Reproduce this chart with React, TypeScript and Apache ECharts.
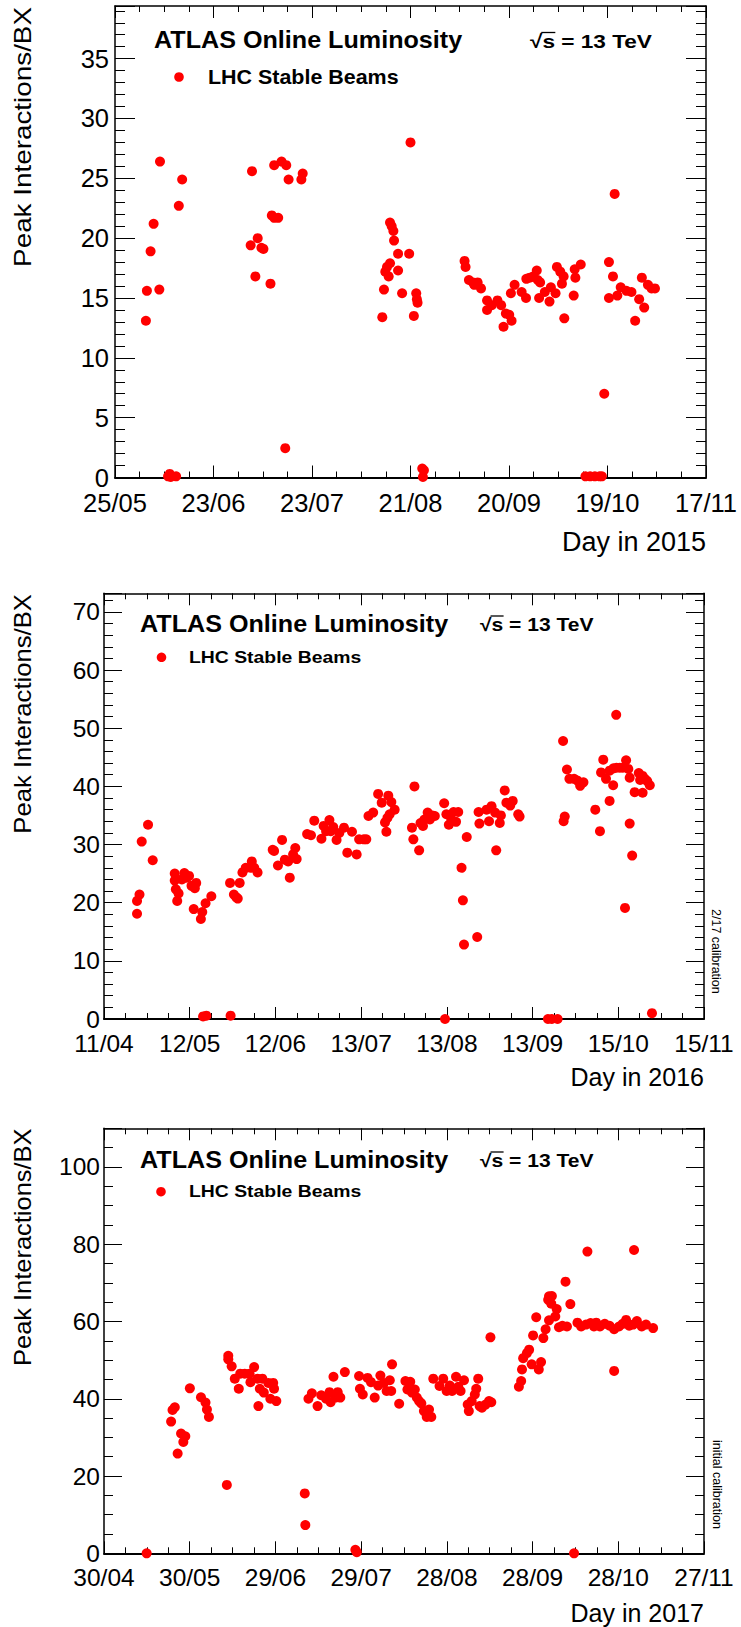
import React, { useEffect, useRef } from "react";
import * as echarts from "echarts";

// ---------------- data ----------------
// x values: days since the first tick label of each panel; y: peak interactions per bunch crossing
const TICKS_2015 = ["25/05", "23/06", "23/07", "21/08", "20/09", "19/10", "17/11"];
const SPAN_2015 = 176;
const YMAX_2015 = 39.4;
const DATA_2015: number[][] = [
  [9.2, 13.1], [9.5, 15.6], [10.6, 18.9], [11.5, 21.2], [13.2, 15.7], [13.4, 26.4], [15.8, 0.1], [16.3, 0.3], [16.6, 0.05], [18.2, 0.1], [19.0, 22.7], [20.0, 24.9],
  [40.4, 19.4], [40.8, 25.6], [41.8, 16.8], [42.5, 20.0], [43.6, 19.2], [44.2, 19.1], [46.3, 16.2], [46.7, 21.9], [47.4, 21.7], [48.6, 21.7], [47.4, 26.1], [49.6, 26.4], [51.0, 26.1], [51.7, 24.9], [50.7, 2.45], [55.5, 24.9], [55.9, 25.4],
  [79.6, 13.4], [80.1, 15.7], [80.5, 17.2], [81.0, 17.6], [81.5, 16.8], [81.9, 17.9], [81.9, 21.3], [82.4, 21.0], [82.9, 20.6], [83.1, 19.8], [84.3, 17.3], [84.3, 18.7], [85.5, 15.4], [87.6, 18.7], [88.0, 28.0], [89.0, 13.5], [89.7, 15.4], [89.9, 14.9], [90.1, 14.6], [91.5, 0.75], [91.7, 0.05], [92.0, 0.6],
  [104.1, 18.1], [104.4, 17.6], [105.4, 16.5], [106.6, 16.3], [107.0, 16.1], [108.0, 16.3], [109.0, 15.8], [110.8, 14.8], [110.8, 14.0], [112.2, 14.4], [113.9, 14.8], [115.0, 14.4], [115.7, 12.6], [116.4, 13.7], [117.4, 13.6], [118.1, 13.1], [117.9, 15.4], [119.0, 16.1],
  [121.1, 15.5], [122.4, 15.0], [122.5, 16.6], [123.5, 16.7], [124.6, 16.8], [125.6, 17.3], [125.9, 16.5], [126.6, 16.3], [126.3, 15.0], [128.0, 15.5], [129.4, 14.7], [129.8, 15.9], [131.2, 15.4], [131.6, 17.6], [132.6, 17.2], [133.1, 16.2], [133.6, 16.8], [133.8, 13.3],
  [136.6, 15.2], [136.9, 17.4], [137.1, 16.7], [138.7, 17.8], [140.1, 0.1], [141.5, 0.1], [142.9, 0.1], [144.3, 0.1], [145.0, 0.1], [145.7, 7.0], [147.1, 18.0], [147.1, 15.0], [148.3, 16.8], [148.8, 23.7], [149.6, 15.2], [150.6, 15.9],
  [152.3, 15.6], [153.8, 15.5], [154.9, 13.1], [156.1, 14.9], [156.9, 16.7], [157.6, 14.2], [158.7, 16.1], [159.8, 15.8], [160.8, 15.8],
];

const TICKS_2016 = ["11/04", "12/05", "12/06", "13/07", "13/08", "13/09", "15/10", "15/11"];
const SPAN_2016 = 218;
const YMAX_2016 = 73.2;
const DATA_2016: number[][] = [
  [12.0, 18.1], [12.0, 20.3], [12.9, 21.4], [13.7, 30.5], [16.0, 33.4], [17.7, 27.3],
  [25.7, 25.0], [25.7, 23.8], [26.1, 22.3], [26.6, 20.3], [27.1, 21.6], [28.3, 24.0], [29.2, 25.1], [30.0, 24.3], [30.9, 24.6], [31.8, 22.9], [33.0, 22.5], [32.6, 18.9], [33.5, 23.4], [35.2, 17.2], [35.7, 18.4], [36.9, 19.9], [39.0, 21.1], [36.0, 0.45], [37.2, 0.57], [46.0, 0.57],
  [45.8, 23.4], [47.2, 21.4], [48.1, 20.9], [48.6, 20.7], [49.3, 23.4], [50.3, 25.2], [51.5, 26.0], [53.2, 26.0], [53.7, 27.1], [54.6, 26.0], [55.8, 25.2],
  [61.3, 29.1], [61.8, 28.9], [63.2, 26.4], [64.7, 30.8], [65.7, 27.4], [67.5, 24.3], [66.9, 27.1], [68.7, 28.3], [69.5, 29.4], [70.0, 27.5],
  [73.8, 31.8], [75.2, 31.6], [76.4, 34.1], [79.0, 31.0], [79.8, 33.2], [80.7, 32.3], [81.9, 34.2], [82.4, 32.3], [83.3, 33.0], [84.5, 30.8], [85.5, 32.0], [87.2, 32.9], [88.4, 28.6], [90.1, 32.2], [91.8, 28.3], [92.7, 30.9], [94.4, 30.9], [95.3, 30.9],
  [96.1, 34.9], [97.8, 35.5], [99.6, 38.7], [100.9, 37.2], [102.1, 33.8], [102.6, 32.2], [103.0, 34.6], [103.3, 38.4], [103.8, 35.2], [104.4, 37.3], [105.6, 36.0],
  [111.9, 32.9], [112.4, 30.9], [112.8, 40.0], [114.5, 29.0], [115.0, 33.7], [115.9, 33.2], [116.4, 34.3], [117.6, 35.5], [118.4, 34.3], [119.3, 35.0], [120.2, 34.9],
  [123.6, 37.1], [123.9, 0], [124.4, 35.2], [125.3, 33.4], [126.2, 34.3], [127.0, 35.6], [127.9, 33.9], [128.7, 35.6], [129.9, 26.0], [130.4, 20.4], [130.8, 12.8], [131.8, 31.3], [135.6, 14.1], [136.1, 35.6], [136.4, 33.6],
  [139.0, 36.0], [139.9, 34.0], [140.8, 36.6], [142.1, 35.5], [142.5, 29.0], [143.8, 33.7], [144.2, 35.0], [145.6, 39.3], [146.2, 37.2], [147.6, 36.7], [148.5, 37.5], [150.5, 35.2], [151.0, 34.8],
  [161.3, 0], [162.7, 0], [164.8, 0],
  [166.8, 47.8], [167.0, 34.0], [167.4, 34.8], [168.2, 42.9], [169.1, 41.3], [170.8, 41.3], [172.0, 41.0], [173.0, 40.1], [174.2, 40.7],
  [178.5, 36.0], [180.2, 32.3], [180.6, 42.4], [181.4, 44.6], [182.4, 41.3], [183.7, 42.7], [183.7, 37.5], [185.0, 40.2], [185.1, 43.1], [186.1, 52.3], [186.2, 43.2], [187.4, 43.2], [188.5, 43.2], [189.3, 19.1],
  [189.7, 44.5], [190.5, 43.0], [191.0, 41.5], [191.0, 33.6], [191.9, 28.1], [192.8, 39.0], [194.3, 42.3], [194.8, 41.1], [195.7, 41.8], [195.7, 38.9], [196.5, 41.3], [197.4, 40.9], [198.3, 40.2], [199.1, 1.0],
];

const TICKS_2017 = ["30/04", "30/05", "29/06", "29/07", "28/08", "28/09", "28/10", "27/11"];
const SPAN_2017 = 211;
const YMAX_2017 = 110;
const DATA_2017: number[][] = [
  [15.0, 0], [23.6, 34.1], [24.1, 37.1], [24.9, 37.8], [25.9, 25.8], [27.1, 31.0], [27.9, 28.8], [28.6, 30.3], [30.2, 42.7], [34.1, 40.4], [35.7, 39.0], [36.2, 37.2], [36.9, 35.3],
  [43.2, 17.7], [43.7, 51.1], [43.7, 50.2], [44.9, 48.4], [46.0, 45.2], [47.4, 42.6], [47.9, 46.5], [49.5, 46.5], [51.2, 46.5], [51.5, 44.3], [52.8, 48.2], [54.0, 45.2], [54.3, 38.1], [54.8, 42.6], [55.7, 45.2], [56.2, 41.6], [57.8, 44.1], [58.5, 40.0], [59.5, 44.1], [59.8, 42.6], [60.6, 39.4],
  [70.6, 15.5], [70.8, 7.3], [71.9, 40.0], [73.1, 41.4], [75.1, 38.1], [76.4, 40.9], [78.1, 40.0], [79.3, 41.7], [79.7, 39.1], [80.7, 45.7], [81.4, 40.3], [82.2, 41.7], [83.1, 40.3], [84.7, 46.9],
  [88.4, 0.9], [88.9, 0.3], [89.7, 45.9], [90.0, 42.6], [91.0, 41.1], [92.7, 45.4], [93.9, 44.3], [95.2, 40.3], [96.4, 43.4], [97.2, 46.0], [98.4, 44.1], [99.4, 42.0], [100.5, 44.8], [101.0, 42.0], [101.3, 48.9], [103.8, 38.7],
  [106.0, 44.6], [106.7, 42.4], [107.7, 44.4], [108.3, 41.6], [109.3, 42.4], [110.0, 40.3], [110.8, 39.4], [111.6, 38.8], [112.5, 36.8], [113.5, 35.3], [114.3, 37.2], [115.1, 35.3], [115.8, 45.2],
  [118.0, 43.3], [119.3, 45.2], [120.5, 42.0], [121.6, 43.4], [122.4, 42.0], [123.8, 45.7], [124.6, 43.1], [125.4, 42.0], [126.6, 44.8], [127.9, 38.5], [128.3, 36.8], [129.3, 39.4], [130.4, 41.1], [130.9, 42.6], [131.6, 45.2], [132.1, 38.1], [132.9, 37.7], [134.2, 38.5], [135.4, 39.4], [135.9, 55.9], [136.2, 39.1],
  [145.9, 43.1], [146.7, 44.6], [147.0, 47.6], [147.4, 50.5], [148.7, 51.8], [149.5, 52.7], [150.4, 48.9], [150.9, 56.4], [152.0, 61.1], [152.9, 47.6], [153.7, 49.5], [154.5, 55.7], [155.3, 58.0], [156.2, 65.6], [156.5, 66.5], [156.5, 60.3], [157.3, 64.6], [157.5, 66.6], [158.7, 61.3], [159.2, 63.2], [160.0, 58.5], [161.2, 58.9], [162.3, 70.3], [162.8, 58.7], [164.0, 64.5], [165.3, 0],
  [166.5, 59.7], [167.8, 58.7], [169.5, 59.2], [170.0, 78.1], [171.1, 59.6], [172.3, 58.7], [173.1, 59.7], [174.4, 58.7], [176.1, 59.4], [177.8, 58.9], [179.4, 58.0], [179.4, 47.2], [181.1, 58.7], [182.4, 59.4], [183.6, 60.4], [184.7, 58.9], [186.1, 59.2], [186.4, 78.5], [187.4, 60.1], [189.1, 58.7], [190.6, 59.2], [193.1, 58.3],
];

const YEARS = ["2015", "2016", "2017"];
const Y_INTERVALS = [5, 10, 20];
const Y_MINOR_SPLITS = [5, 5, 4];
const NOTES = ["", "2/17 calibration", "initial calibration"];
const TITLE = "ATLAS Online Luminosity";
const ENERGY = "√s = 13 TeV";
const LEGEND = "LHC Stable Beams";
const Y_TITLE = "Peak Interactions/BX";

// ---------------- layout ----------------
const FONT = '"Liberation Sans", Arial, Helvetica, sans-serif';
const RED = "#ff0000";

const LAYOUT = [
  { left: 115, top: 6, width: 591, height: 471.5, tickFont: 25.5, tickLH: 20, xMargin: 15, yMargin: 6, yTick: 20, xTick: 12,
    title: [154, 40, 23.5, 1.07], energy: [530, 41.5, 19, 1.19], marker: [179, 77], legend: [208, 77, 19.5, 1.1],
    ytitle: [23, 7, 24, 1.16], xtitle: [706, 542, 27], note: [0, 0] },
  { left: 104, top: 593.3, width: 600, height: 425.7, tickFont: 24.5, tickLH: 19, xMargin: 15, yMargin: 4, yTick: 18, xTick: 12,
    title: [140, 623.5, 23.5, 1.07], energy: [480, 625, 18, 1.17], marker: [161.5, 657.3], legend: [189, 657.5, 17, 1.14],
    ytitle: [23, 594, 24, 1.07], xtitle: [704, 1077, 25], note: [716, 909] },
  { left: 104, top: 1128.3, width: 600, height: 425, tickFont: 24.5, tickLH: 19, xMargin: 14.5, yMargin: 4, yTick: 18, xTick: 12,
    title: [140, 1160, 23.5, 1.07], energy: [480, 1161, 18, 1.17], marker: [161, 1191.7], legend: [189, 1191.7, 17, 1.14],
    ytitle: [23, 1128.5, 24, 1.06], xtitle: [704, 1613, 25], note: [717, 1440] },
];

function buildOption() {
  const panels = [
    { ticks: TICKS_2015, span: SPAN_2015, ymax: YMAX_2015, data: DATA_2015 },
    { ticks: TICKS_2016, span: SPAN_2016, ymax: YMAX_2016, data: DATA_2016 },
    { ticks: TICKS_2017, span: SPAN_2017, ymax: YMAX_2017, data: DATA_2017 },
  ];
  const grid: any[] = [];
  const xAxis: any[] = [];
  const yAxis: any[] = [];
  const series: any[] = [];
  const graphic: any[] = [];
  const black = { color: "#000", width: 1 };

  panels.forEach((p, i) => {
    const L = LAYOUT[i];
    grid.push({ left: L.left, top: L.top, width: L.width, height: L.height, containLabel: false, outerBoundsMode: "none" });
    const xInt = p.span / (p.ticks.length - 1);
    const xCommon = {
      type: "value", gridIndex: i, min: 0, max: p.span, interval: xInt,
      splitLine: { show: false },
      axisLine: { show: true, onZero: false, lineStyle: { color: "#000", width: 1.5 } },
      axisTick: { show: true, inside: true, length: L.xTick, lineStyle: black },
      minorTick: { show: true, splitNumber: 4, length: L.xTick / 2, lineStyle: black },
    };
    xAxis.push({
      ...xCommon, position: "bottom",
      axisLine: { show: true, onZero: false, lineStyle: { color: "#000", width: 2 } },
      axisLabel: {
        show: true, margin: L.xMargin, fontSize: L.tickFont, lineHeight: L.tickLH, fontFamily: FONT, color: "#000",
        formatter: (v: number) => p.ticks[Math.round(v / xInt)] ?? "",
      },
    });
    xAxis.push({ ...xCommon, position: "top", axisLabel: { show: false } });
    const yCommon = {
      type: "value", gridIndex: i, min: 0, max: p.ymax, interval: Y_INTERVALS[i],
      splitLine: { show: false },
      axisLine: { show: true, onZero: false, lineStyle: { color: "#000", width: 1.5 } },
      axisTick: { show: true, inside: true, length: L.yTick, lineStyle: black },
      minorTick: { show: true, splitNumber: Y_MINOR_SPLITS[i], length: L.yTick / 2, lineStyle: black },
    };
    yAxis.push({
      ...yCommon, position: "left",
      axisLabel: { show: true, margin: L.yMargin, fontSize: L.tickFont, lineHeight: L.tickLH, fontFamily: FONT, color: "#000", showMaxLabel: false },
    });
    yAxis.push({ ...yCommon, position: "right", axisLabel: { show: false } });

    series.push({
      type: "scatter", xAxisIndex: 2 * i, yAxisIndex: 2 * i, data: p.data,
      symbol: "circle", symbolSize: 10, itemStyle: { color: RED, opacity: 1 }, clip: false, silent: true,
    });

    // texts
    graphic.push({
      type: "text", x: L.title[0], y: L.title[1], scaleX: L.title[3],
      style: { text: TITLE, fontSize: L.title[2], fontWeight: "bold", fontFamily: FONT, fill: "#000", align: "left", verticalAlign: "middle" },
    });
    graphic.push({
      type: "text", x: L.energy[0], y: L.energy[1], scaleX: L.energy[3],
      style: { text: ENERGY, fontSize: L.energy[2], fontWeight: "bold", fontFamily: FONT, fill: "#000", align: "left", verticalAlign: "middle" },
    });
    const sq = L.energy[3] * L.energy[2];
    graphic.push({
      type: "line",
      shape: { x1: L.energy[0] + 0.5 * sq, y1: L.energy[1] - 9, x2: L.energy[0] + 1.12 * sq, y2: L.energy[1] - 9 },
      style: { stroke: "#000", lineWidth: 1.3 },
    });
    graphic.push({ type: "circle", shape: { cx: L.marker[0], cy: L.marker[1], r: 4.8 }, style: { fill: RED } });
    graphic.push({
      type: "text", x: L.legend[0], y: L.legend[1], scaleX: L.legend[3],
      style: { text: LEGEND, fontSize: L.legend[2], fontWeight: "bold", fontFamily: FONT, fill: "#000", align: "left", verticalAlign: "middle" },
    });
    graphic.push({
      type: "text", x: L.ytitle[0], y: L.ytitle[1], rotation: Math.PI / 2, scaleX: L.ytitle[3],
      style: { text: Y_TITLE, fontSize: L.ytitle[2], fontFamily: FONT, fill: "#000", align: "right", verticalAlign: "middle" },
    });
    graphic.push({
      type: "text", x: L.xtitle[0], y: L.xtitle[1],
      style: { text: "Day in " + YEARS[i], fontSize: L.xtitle[2], fontFamily: FONT, fill: "#000", align: "right", verticalAlign: "middle" },
    });
    if (NOTES[i]) {
      graphic.push({
        type: "text", x: L.note[0], y: L.note[1], rotation: -Math.PI / 2,
        style: { text: NOTES[i], fontSize: 12.5, fontFamily: FONT, fill: "#000", align: "left", verticalAlign: "middle" },
      });
    }
  });

  return {
    animation: false,
    backgroundColor: "#ffffff",
    grid, xAxis, yAxis, series, graphic,
  };
}

export default function App() {
  const ref = useRef<HTMLDivElement>(null);
  useEffect(() => {
    if (!ref.current) return;
    const chart = echarts.init(ref.current, undefined, { renderer: "svg" });
    chart.setOption(buildOption() as any);
    return () => chart.dispose();
  }, []);
  return (
    <div
      ref={ref}
      style={{ position: "absolute", left: 0, top: 0, width: 741, height: 1627, background: "#fff" }}
    />
  );
}
